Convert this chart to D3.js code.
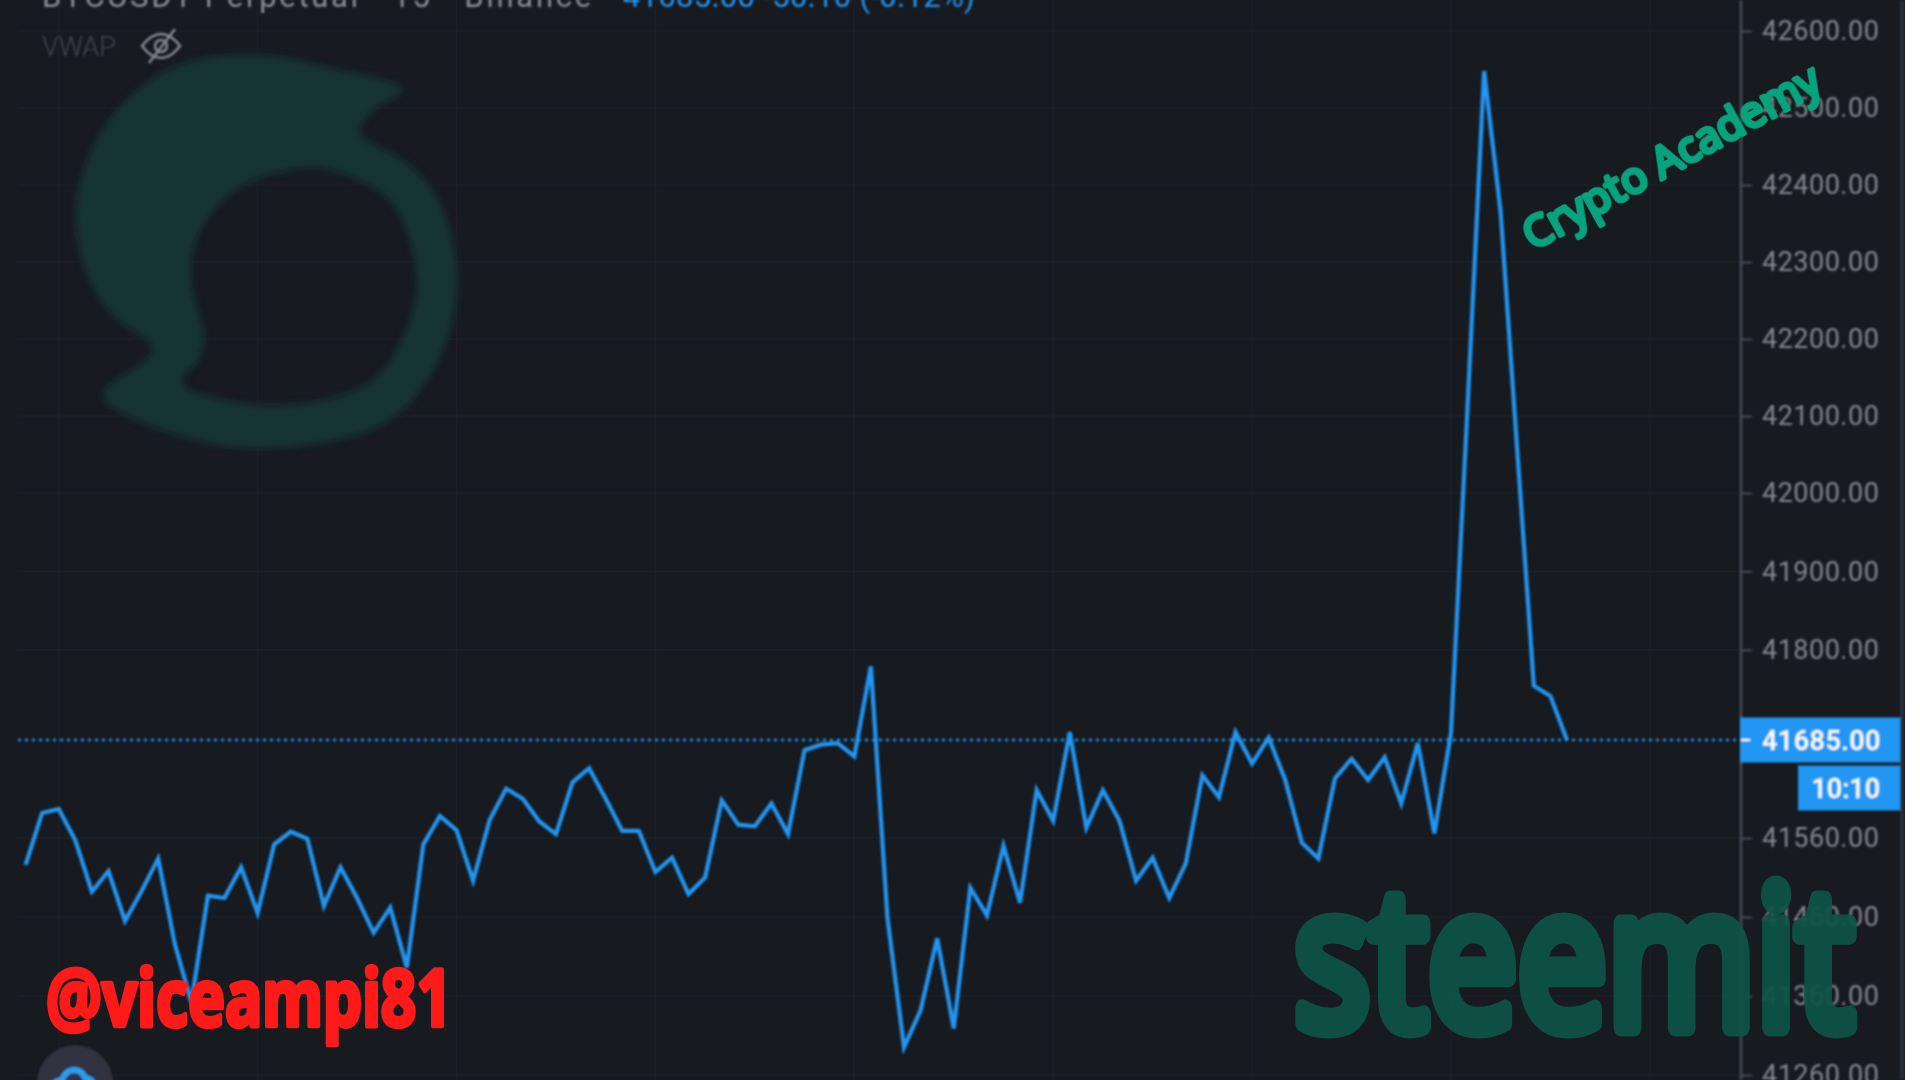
<!DOCTYPE html>
<html><head><meta charset="utf-8">
<script src="https://d3js.org/d3.v7.min.js"></script>
<style>html,body{margin:0;padding:0;background:#fff;overflow:hidden}svg{display:block}</style>
</head><body><svg id="c" width="1920" height="1080"></svg>
<script>
const prices=[41526,41592,41597,41557,41492,41518,41455,41493,41534,41426,41352,41487,41484,41523,41465,41552,41568,41559,41474,41523,41484,41440,41472,41396,41552,41588,41570,41506,41583,41623,41610,41581,41565,41631,41649,41610,41569,41569,41517,41535,41489,41510,41608,41577,41575,41604,41565,41672,41679,41681,41664,41779,41459,41295,41342,41433,41319,41497,41462,41550,41478,41621,41582,41695,41573,41621,41582,41506,41535,41484,41528,41640,41612,41695,41655,41688,41634,41554,41534,41636,41661,41634,41663,41604,41681,41566,41694,42112,42548,42364,42055,41754,41741,41685];
const priceTicks=[42600,42500,42400,42300,42200,42100,42000,41900,41800,41560,41460,41360,41260];
const gridBars=[2,14,26,38,50,62,74,86,98];
const lastPrice=41685;
const countdown="10:10";
const headerGrey="BTCUSDT Perpetual · 15 · Binance";
const headerBlue="41685.00  -50.10 (-0.12%)";

const svg=d3.select("#c");
const x=d3.scaleLinear().domain([0,93]).range([25.6,1567]);
const y=d3.scaleLinear().domain([41260,41560,42000,42600]).range([1075,838,493,31]);
const fmt=d3.format(".2f");

const defs=svg.append("defs");
defs.append("filter").attr("id","soft").append("feGaussianBlur").attr("stdDeviation",0.8);
defs.append("filter").attr("id","logoBlur").append("feGaussianBlur").attr("stdDeviation",4);
defs.append("clipPath").attr("id","pane").append("rect").attr("width",1905).attr("height",1080);

svg.append("rect").attr("width",1920).attr("height",1080).attr("fill","#fff");
const root=svg.append("g").attr("clip-path","url(#pane)");
root.append("rect").attr("width",1905).attr("height",1080).attr("fill","#171a1f");

// grid
const grid=root.append("g").attr("stroke","#1c1f26").attr("stroke-width",1.5);
grid.selectAll("line.h").data(priceTicks).join("line").attr("class","h")
  .attr("x1",18).attr("x2",1741).attr("y1",d=>y(d)).attr("y2",d=>y(d));
grid.selectAll("line.v").data(gridBars).join("line").attr("class","v")
  .attr("x1",d=>x(d)).attr("x2",d=>x(d)).attr("y1",0).attr("y2",1080);

// logo watermark
const outer=[[403,90],[330,68],[257,55],[173,67],[107,123],[77,197],[83,263],[110,313],[153,350],[103,395],[207,443],[307,445],[390,420],[440,357],[457,280],[440,203],[407,163],[360,133],[373,110]];
const hole=[[307,168],[240,187],[197,237],[192,287],[203,330],[200,357],[182,383],[240,403],[307,403],[373,380],[409,323],[416,270],[392,203],[347,175]];
const blob=d3.line().curve(d3.curveCatmullRomClosed.alpha(0.5));
root.append("path").attr("d",blob(outer)+blob(hole)).attr("fill","#153632").attr("fill-rule","evenodd").attr("filter","url(#logoBlur)");

const chart=root.append("g").attr("filter","url(#soft)");

// header, clipped by the top of the frame
const hdr=chart.append("text").attr("x",42).attr("y",7).attr("font-family","Roboto, sans-serif").attr("font-size",31);
hdr.append("tspan").attr("fill","#8b8e95").attr("letter-spacing",2.7).text(headerGrey);
hdr.append("tspan").attr("dx",29).attr("fill","#2196f3").attr("letter-spacing",0.3).text(headerBlue);

// legend
chart.append("text").attr("x",42).attr("y",56).attr("font-family","Roboto, sans-serif").attr("font-size",27).attr("font-weight",300).attr("fill","#44474f").text("VWAP");
const eye=chart.append("g").attr("transform","translate(161,46)").attr("fill","none").attr("stroke","#85888f").attr("stroke-width",2.5);
eye.append("path").attr("d","M-19,0 Q-10,-12 0,-12 Q10,-12 19,0 Q10,12 0,12 Q-10,12 -19,0Z");
eye.append("circle").attr("r",6);
eye.append("line").attr("x1",-12).attr("y1",17).attr("x2",14).attr("y2",-17);

// last price line and series
chart.append("line").attr("x1",18).attr("x2",1741).attr("y1",y(lastPrice)).attr("y2",y(lastPrice))
  .attr("stroke","#2196f3").attr("stroke-width",2.6).attr("stroke-dasharray","3 4");
const line=d3.line().x((d,i)=>x(i)).y(d=>y(d));
chart.append("path").datum(prices).attr("d",line).attr("fill","none").attr("stroke","#2196f3").attr("stroke-width",4.2).attr("stroke-linejoin","miter");

// axis
const axisG=chart.append("g").attr("class","yaxis").attr("transform","translate(1741,0)")
  .call(d3.axisRight(y).tickValues(priceTicks).tickFormat(fmt).tickSize(11).tickPadding(10));
axisG.select(".domain").remove();
axisG.selectAll("line").attr("stroke","#4a4d57").attr("stroke-width",2);
axisG.selectAll("text").attr("fill","#85888f").attr("font-family","Roboto, sans-serif").attr("font-size",27).attr("letter-spacing",.5);
chart.append("line").attr("x1",1741).attr("x2",1741).attr("y1",0).attr("y2",1080).attr("stroke","#4a4d57").attr("stroke-width",2.5);
chart.append("line").attr("x1",1902).attr("x2",1902).attr("y1",0).attr("y2",1080).attr("stroke","#2a2e37").attr("stroke-width",4);

// price tag and countdown
const yLast=y(lastPrice);
chart.append("rect").attr("x",1740).attr("y",yLast-22.5).attr("width",160).attr("height",45).attr("fill","#2196f3");
chart.append("line").attr("x1",1741).attr("x2",1750).attr("y1",yLast).attr("y2",yLast).attr("stroke","#fff").attr("stroke-width",2);
chart.append("text").attr("x",1762).attr("y",yLast+10).attr("fill","#fff").attr("font-family","Roboto, sans-serif").attr("font-size",27).attr("font-weight",500).attr("letter-spacing",.5).text(fmt(lastPrice));
chart.append("rect").attr("x",1798).attr("y",yLast+25.5).attr("width",102).attr("height",45).attr("fill","#2196f3");
chart.append("text").attr("x",1880).attr("y",yLast+58).attr("text-anchor","end").attr("fill","#fff").attr("font-family","Roboto, sans-serif").attr("font-size",27).attr("font-weight",500).text(countdown);

// circular badge
chart.append("circle").attr("cx",75).attr("cy",1083).attr("r",38).attr("fill","#30333f");
chart.append("path").attr("d","M52,1092 Q52,1081 62,1080 Q66,1070 74,1070 Q82,1070 85,1078 Q95,1079 95,1092Z").attr("fill","none").attr("stroke","#2a9df4").attr("stroke-width",6);

// overlay captions: regular-weight glyphs with thick round strokes give the rounded, bubbly letters
const overlay=svg.append("g").attr("clip-path","url(#pane)");
overlay.append("text").attr("x",1294).attr("y",1028).attr("font-family","'Noto Sans', sans-serif").attr("font-weight",400).attr("font-size",196)
  .attr("textLength",560).attr("lengthAdjust","spacingAndGlyphs")
  .attr("fill","#0f5446").attr("stroke","#0f5446").attr("stroke-width",17).attr("stroke-linejoin","round").attr("opacity",.93).text("steemit");
overlay.append("text").attr("transform","translate(1533,251) rotate(-29)").attr("font-family","'Noto Sans', sans-serif").attr("font-weight",400).attr("font-size",43)
  .attr("textLength",333).attr("lengthAdjust","spacingAndGlyphs")
  .attr("fill","#07a37c").attr("stroke","#07a37c").attr("stroke-width",4).attr("stroke-linejoin","round").text("Crypto Academy");
overlay.append("text").attr("x",46).attr("y",1026).attr("font-family","'Noto Sans', sans-serif").attr("font-weight",700).attr("font-size",78)
  .attr("textLength",406).attr("lengthAdjust","spacingAndGlyphs")
  .attr("fill","#ff1a1a").attr("stroke","#ff1a1a").attr("stroke-width",4.5).attr("stroke-linejoin","round").text("@viceampi81");
</script></body></html>
